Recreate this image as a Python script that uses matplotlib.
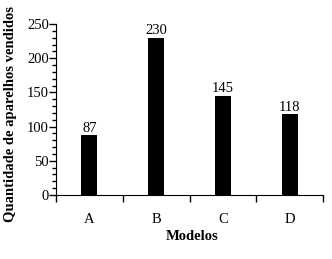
import matplotlib
matplotlib.use("Agg")
import matplotlib.pyplot as plt
from matplotlib.ticker import MultipleLocator

categories = ["A", "B", "C", "D"]
values = [87, 230, 145, 118]

plt.rcParams['font.family'] = ['Liberation Serif', 'DejaVu Serif']

fig = plt.figure(figsize=(3.32, 2.59), dpi=100)
W, H = 332, 259
ax = fig.add_axes([56 / W, (H - 195) / H, (323 - 56) / W, (195 - 24) / H])

x = list(range(len(categories)))
ax.bar(x, values, width=0.24, color='black')
for xi, v in zip(x, values):
    ax.text(xi, v + 1, str(v), ha='center', va='bottom', fontsize=10.5)

ax.set_xlim(-0.5, 3.5)
ax.set_ylim(0, 250)
ax.spines['top'].set_visible(False)
ax.spines['right'].set_visible(False)
ax.spines['left'].set_bounds(0, 250)

ax.set_xticks([-0.5, 0.5, 1.5, 2.5, 3.5])
ax.set_xticklabels([])
ax.set_xticks(x, minor=True)
ax.set_xticklabels(categories, minor=True, fontsize=10.5)
ax.tick_params(axis='x', which='major', direction='out', length=5, width=1)
ax.tick_params(axis='x', which='minor', length=0, pad=13)

ax.yaxis.set_major_locator(MultipleLocator(50))
ax.yaxis.set_minor_locator(MultipleLocator(10))
ax.tick_params(axis='y', which='major', direction='out', length=5, width=1, labelsize=10.5, pad=0)
ax.tick_params(axis='y', which='minor', direction='out', length=3, width=1)

ax.set_xlabel('Modelos', fontsize=10.5, fontweight='bold', va='center')
ax.xaxis.set_label_coords((192 - 56) / 267, (195 - 236) / 171)
ax.set_ylabel('Quantidade de aparelhos vendidos', fontsize=10.5, fontweight='bold', va='center')
ax.yaxis.set_label_coords((11 - 56) / 267, (195 - 114.5) / 171)

fig.savefig('out.png', dpi=100)
